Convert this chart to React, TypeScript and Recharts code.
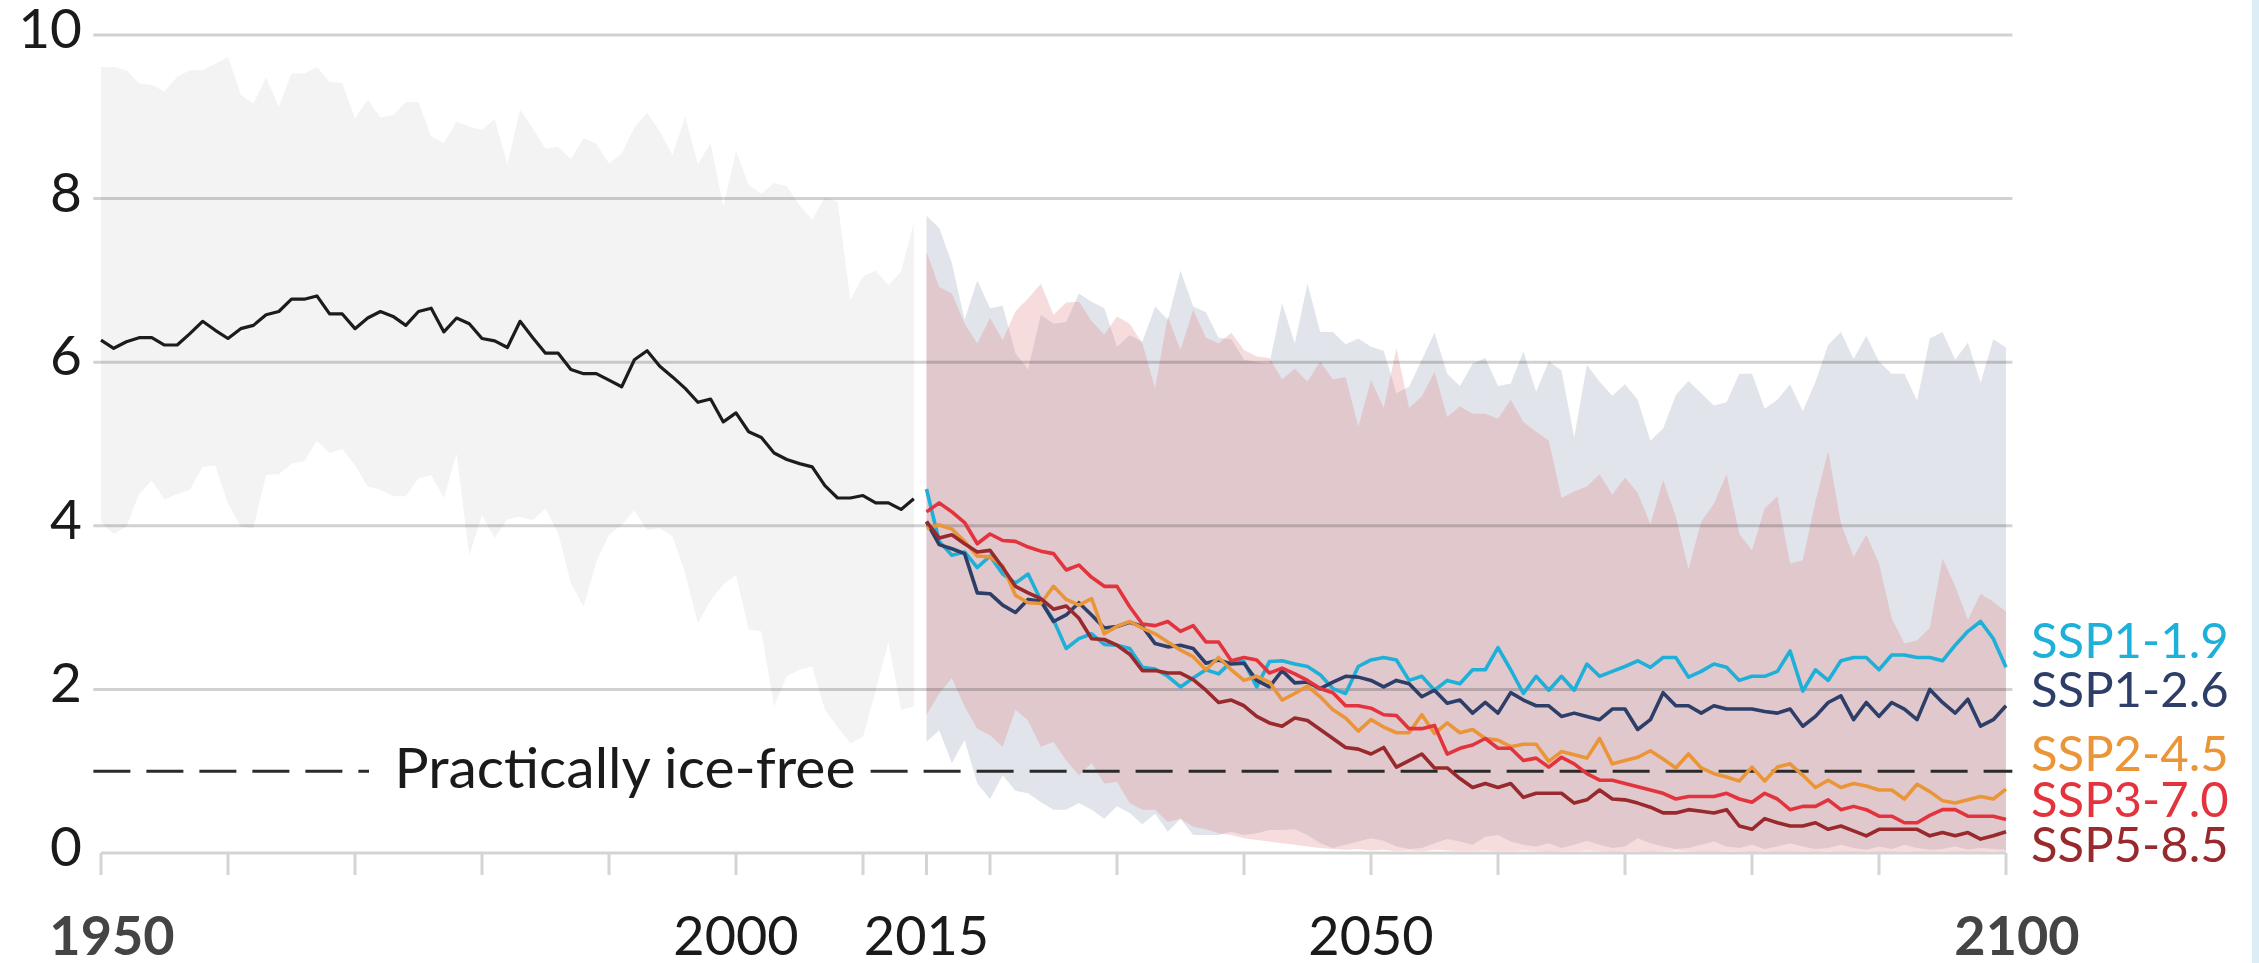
import React from "react";
import { ComposedChart, Area, Line, XAxis, YAxis, ReferenceLine } from "recharts";

// historical, 1950-2014
const HIST_START = 1950;
const histMean = [
  6.27, 6.17, 6.25, 6.3, 6.3, 6.21, 6.21, 6.35, 6.5, 6.39,
  6.29, 6.41, 6.45, 6.58, 6.62, 6.77, 6.77, 6.81, 6.59, 6.59,
  6.41, 6.54, 6.62, 6.56, 6.45, 6.62, 6.66, 6.37, 6.54, 6.47,
  6.29, 6.26, 6.18, 6.5, 6.3, 6.11, 6.11, 5.91, 5.86, 5.86,
  5.78, 5.7, 6.03, 6.14, 5.95, 5.82, 5.68, 5.51, 5.55, 5.27,
  5.38, 5.15, 5.08, 4.89, 4.81, 4.76, 4.72, 4.49, 4.34, 4.34,
  4.37, 4.28, 4.28, 4.2, 4.33,
];
const histHigh = [
  9.61, 9.61, 9.57, 9.41, 9.39, 9.31, 9.49, 9.57, 9.57, 9.65,
  9.73, 9.27, 9.16, 9.48, 9.12, 9.53, 9.53, 9.61, 9.43, 9.41,
  8.98, 9.21, 8.99, 9.02, 9.18, 9.18, 8.76, 8.68, 8.94, 8.88,
  8.84, 8.97, 8.42, 9.09, 8.86, 8.61, 8.63, 8.48, 8.74, 8.67,
  8.43, 8.55, 8.87, 9.05, 8.82, 8.53, 9.0, 8.42, 8.68, 7.9,
  8.58, 8.17, 8.06, 8.19, 8.15, 7.92, 7.74, 8.02, 7.96, 6.76,
  7.05, 7.12, 6.94, 7.11, 7.7,
];
const histLow = [
  4.04, 3.9, 3.99, 4.39, 4.55, 4.32, 4.39, 4.44, 4.72, 4.74,
  4.27, 3.99, 3.97, 4.62, 4.63, 4.76, 4.79, 5.04, 4.89, 4.94,
  4.74, 4.48, 4.44, 4.36, 4.36, 4.58, 4.62, 4.34, 4.88, 3.64,
  4.13, 3.85, 4.08, 4.11, 4.07, 4.21, 3.91, 3.3, 3.01, 3.56,
  3.89, 4.01, 4.19, 3.95, 3.97, 3.87, 3.42, 2.81, 3.09, 3.28,
  3.4, 2.73, 2.71, 1.79, 2.16, 2.24, 2.28, 1.75, 1.54, 1.34,
  1.42, 1.99, 2.58, 1.75, 1.79,
];

// projections, 2015-2100
const SSP_START = 2015;
const ssp119 = [
  4.45, 3.81, 3.64, 3.68, 3.49, 3.63, 3.41, 3.3, 3.41, 3.09,
  2.85, 2.5, 2.62, 2.68, 2.55, 2.54, 2.5, 2.27, 2.25, 2.16,
  2.03, 2.14, 2.24, 2.19, 2.34, 2.34, 2.03, 2.34, 2.35, 2.31,
  2.28, 2.18, 2.01, 1.95, 2.28, 2.36, 2.39, 2.36, 2.11, 2.16,
  1.99, 2.11, 2.07, 2.24, 2.24, 2.51, 2.24, 1.95, 2.16, 1.99,
  2.16, 1.99, 2.31, 2.16, 2.22, 2.28, 2.35, 2.27, 2.39, 2.39,
  2.15, 2.22, 2.31, 2.27, 2.11, 2.16, 2.16, 2.22, 2.47, 1.98,
  2.24, 2.11, 2.35, 2.39, 2.39, 2.24, 2.42, 2.42, 2.39, 2.39,
  2.35, 2.54, 2.71, 2.83, 2.62, 2.27,
];
const ssp126 = [
  4.05, 3.77, 3.72, 3.66, 3.18, 3.17, 3.03, 2.94, 3.1, 3.08,
  2.83, 2.91, 3.06, 2.91, 2.75, 2.77, 2.82, 2.77, 2.56, 2.52,
  2.54, 2.5, 2.32, 2.36, 2.31, 2.32, 2.11, 2.03, 2.23, 2.08,
  2.09, 2.01, 2.09, 2.16, 2.15, 2.11, 2.03, 2.11, 2.07, 1.91,
  1.99, 1.83, 1.87, 1.71, 1.84, 1.71, 1.96, 1.87, 1.8, 1.8,
  1.67, 1.71, 1.67, 1.63, 1.76, 1.76, 1.51, 1.63, 1.96, 1.8,
  1.8, 1.71, 1.8, 1.76, 1.76, 1.76, 1.73, 1.71, 1.76, 1.55,
  1.67, 1.84, 1.92, 1.63, 1.84, 1.67, 1.84, 1.76, 1.63, 2.0,
  1.84, 1.71, 1.88, 1.55, 1.63, 1.8,
];
const ssp245 = [
  3.97, 4.01, 3.96, 3.81, 3.63, 3.62, 3.51, 3.15, 3.06, 3.05,
  3.26, 3.1, 3.03, 3.11, 2.68, 2.77, 2.83, 2.75, 2.68, 2.58,
  2.48, 2.4, 2.24, 2.39, 2.24, 2.11, 2.16, 2.09, 1.87, 1.95,
  2.04, 1.91, 1.75, 1.65, 1.49, 1.63, 1.54, 1.47, 1.47, 1.69,
  1.46, 1.59, 1.47, 1.51, 1.4, 1.38, 1.3, 1.33, 1.33, 1.12,
  1.24, 1.2, 1.16, 1.4, 1.09, 1.13, 1.17, 1.25, 1.15, 1.04,
  1.21, 1.04, 0.97, 0.93, 0.88, 1.05, 0.88, 1.05, 1.09, 0.95,
  0.8, 0.89, 0.8, 0.85, 0.82, 0.77, 0.77, 0.66, 0.84, 0.75,
  0.64, 0.61, 0.65, 0.69, 0.66, 0.78,
];
const ssp370 = [
  4.17, 4.28, 4.17, 4.04, 3.78, 3.9, 3.82, 3.81, 3.74, 3.69,
  3.66, 3.46, 3.52, 3.37, 3.26, 3.26, 3.01, 2.8, 2.78, 2.83,
  2.71, 2.78, 2.58, 2.58, 2.35, 2.39, 2.36, 2.2, 2.26, 2.19,
  2.11, 2.01, 1.96, 1.8, 1.8, 1.77, 1.69, 1.68, 1.52, 1.52,
  1.56, 1.21, 1.28, 1.32, 1.4, 1.28, 1.28, 1.13, 1.16, 1.05,
  1.17, 1.09, 0.97, 0.89, 0.89, 0.85, 0.81, 0.77, 0.73, 0.66,
  0.69, 0.69, 0.69, 0.73, 0.66, 0.62, 0.73, 0.66, 0.53, 0.57,
  0.57, 0.65, 0.53, 0.57, 0.53, 0.45, 0.45, 0.37, 0.37, 0.46,
  0.53, 0.53, 0.45, 0.45, 0.45, 0.41,
];
const ssp585 = [
  4.05, 3.85, 3.89, 3.78, 3.68, 3.7, 3.49, 3.26, 3.18, 3.11,
  2.98, 3.02, 2.87, 2.62, 2.61, 2.54, 2.43, 2.23, 2.23, 2.2,
  2.2, 2.12, 1.99, 1.84, 1.87, 1.8, 1.67, 1.59, 1.55, 1.65,
  1.62, 1.51, 1.4, 1.29, 1.27, 1.21, 1.29, 1.05, 1.13, 1.21,
  1.04, 1.04, 0.91, 0.8, 0.85, 0.8, 0.85, 0.68, 0.73, 0.73,
  0.73, 0.61, 0.65, 0.77, 0.66, 0.65, 0.61, 0.56, 0.49, 0.49,
  0.53, 0.51, 0.49, 0.53, 0.33, 0.29, 0.42, 0.37, 0.33, 0.33,
  0.37, 0.29, 0.33, 0.27, 0.21, 0.29, 0.29, 0.29, 0.29, 0.21,
  0.25, 0.21, 0.25, 0.17, 0.21, 0.26,
];

// likely ranges for SSP1-2.6 and SSP3-7.0
const band126High = [
  7.79, 7.64, 7.21, 6.52, 7.0, 6.66, 6.69, 6.11, 5.91, 6.58,
  6.47, 6.49, 6.84, 6.74, 6.66, 6.19, 6.33, 6.25, 6.68, 6.52,
  7.12, 6.68, 6.61, 6.3, 6.28, 6.03, 6.0, 5.98, 6.72, 6.23,
  6.96, 6.37, 6.37, 6.22, 6.29, 6.19, 6.14, 5.62, 5.7, 6.03,
  6.36, 5.86, 5.71, 5.98, 6.05, 5.71, 5.74, 6.13, 5.64, 6.01,
  5.9, 5.08, 5.97, 5.76, 5.59, 5.73, 5.54, 5.04, 5.19, 5.6,
  5.77, 5.62, 5.47, 5.51, 5.86, 5.86, 5.43, 5.54, 5.73, 5.4,
  5.76, 6.21, 6.37, 6.04, 6.32, 6.01, 5.86, 5.86, 5.53, 6.29,
  6.37, 6.03, 6.24, 5.75, 6.28, 6.18,
];
const band126Low = [
  1.36, 1.5, 1.1, 1.38, 0.85, 0.66, 0.95, 0.76, 0.73, 0.62,
  0.53, 0.53, 0.61, 0.53, 0.42, 0.57, 0.49, 0.35, 0.48, 0.26,
  0.42, 0.22, 0.22, 0.22, 0.26, 0.22, 0.24, 0.28, 0.28, 0.29,
  0.22, 0.12, 0.06, 0.1, 0.14, 0.18, 0.15, 0.08, 0.05, 0.06,
  0.12, 0.17, 0.14, 0.1, 0.2, 0.22, 0.14, 0.1, 0.08, 0.12,
  0.06, 0.1, 0.15, 0.1, 0.06, 0.08, 0.18, 0.12, 0.08, 0.05,
  0.06, 0.1, 0.14, 0.08, 0.06, 0.1, 0.05, 0.08, 0.12, 0.08,
  0.05, 0.06, 0.1, 0.06, 0.04, 0.08, 0.05, 0.1, 0.06, 0.04,
  0.05, 0.08, 0.04, 0.06, 0.05, 0.04,
];
const band370High = [
  7.35, 6.92, 6.84, 6.47, 6.23, 6.54, 6.27, 6.62, 6.78, 6.96,
  6.58, 6.73, 6.74, 6.5, 6.34, 6.56, 6.47, 6.23, 5.68, 6.56,
  6.15, 6.64, 6.3, 6.23, 6.36, 6.15, 6.07, 6.05, 5.79, 5.92,
  5.76, 6.01, 5.79, 5.82, 5.21, 5.78, 5.44, 6.17, 5.44, 5.58,
  5.88, 5.33, 5.46, 5.37, 5.37, 5.31, 5.54, 5.27, 5.15, 5.04,
  4.34, 4.42, 4.48, 4.63, 4.38, 4.59, 4.4, 4.02, 4.56, 4.11,
  3.47, 4.05, 4.27, 4.63, 3.9, 3.7, 4.21, 4.36, 3.54, 3.58,
  4.3, 4.91, 4.03, 3.62, 3.89, 3.54, 2.87, 2.56, 2.6, 2.75,
  3.6, 3.26, 2.85, 3.17, 3.07, 2.95,
];
const band370Low = [
  1.69, 1.95, 2.14, 1.79, 1.52, 1.44, 1.3, 1.75, 1.62, 1.3,
  1.36, 1.13, 0.95, 1.1, 0.85, 0.87, 0.61, 0.53, 0.53, 0.38,
  0.42, 0.32, 0.29, 0.24, 0.22, 0.18, 0.16, 0.14, 0.12, 0.1,
  0.08, 0.06, 0.05, 0.04, 0.05, 0.03, 0.04, 0.02, 0.03, 0.02,
  0.04, 0.03, 0.02, 0.02, 0.03, 0.02, 0.02, 0.03, 0.02, 0.01,
  0.02, 0.02, 0.03, 0.02, 0.01, 0.02, 0.02, 0.01, 0.02, 0.03,
  0.02, 0.01, 0.01, 0.02, 0.02, 0.01, 0.02, 0.01, 0.01, 0.02,
  0.01, 0.02, 0.01, 0.01, 0.02, 0.01, 0.01, 0.02, 0.01, 0.01,
  0.02, 0.01, 0.01, 0.01, 0.02, 0.01,
];

const xTicks = [1950, 1960, 1970, 1980, 1990, 2000, 2010, 2015, 2020, 2030, 2040, 2050, 2060, 2070, 2080, 2090, 2100];
const xLabels = [1950, 2000, 2015, 2050, 2100];
const yTicks = [0, 2, 4, 6, 8, 10];
const gridValues = [2, 4, 6, 8, 10];
const ICE_FREE = 1;

const series = [
  { key: "ssp119", name: "SSP1-1.9", color: "#1eb0d8", values: ssp119 },
  { key: "ssp126", name: "SSP1-2.6", color: "#2d3e69", values: ssp126 },
  { key: "ssp245", name: "SSP2-4.5", color: "#ea9638", values: ssp245 },
  { key: "ssp370", name: "SSP3-7.0", color: "#e3343e", values: ssp370 },
  { key: "ssp585", name: "SSP5-8.5", color: "#982a2d", values: ssp585 },
];
// label baselines on the right, in px
const labelBaselines = [658, 707, 771, 817, 862];

const rows: any[] = [];
for (let year = 1950; year <= 2100; year++) {
  const row: any = { year };
  const h = year - HIST_START;
  if (h >= 0 && h < histMean.length) {
    row.hist = histMean[h];
    row.histBand = [histLow[h], histHigh[h]];
  }
  const p = year - SSP_START;
  if (p >= 0 && p < ssp119.length) {
    series.forEach((s) => (row[s.key] = s.values[p]));
    row.band126 = [band126Low[p], band126High[p]];
    row.band370 = [band370Low[p], band370High[p]];
  }
  rows.push(row);
}

const FONT = "Lato, 'Noto Sans', sans-serif";

const XTick = (props: any) => {
  const { x, y, payload } = props;
  const v = payload.value;
  if (!xLabels.includes(v)) return <g />;
  const edge = v === 1950 || v === 2100;
  return (
    <text
      x={x + (edge ? 11 : 0)}
      y={y + 80}
      textAnchor="middle"
      fontFamily={FONT}
      fontSize={54}
      fontWeight={edge ? 700 : 400}
      fill={edge ? "#444" : "#1a1a1a"}
    >
      {v}
    </text>
  );
};

const YTick = (props: any) => {
  const { x, y, payload } = props;
  return (
    <text x={x} y={y + 13} textAnchor="end" fontFamily={FONT} fontSize={55} fill="#1a1a1a">
      {payload.value}
    </text>
  );
};

export default function App() {
  return (
    <div style={{ position: "absolute", left: 0, top: 0, width: 2259, height: 963, background: "#fff" }}>
      <ComposedChart
        width={2259}
        height={963}
        data={rows}
        margin={{ top: 35, right: 253, left: 20, bottom: 10 }}
      >
        <XAxis
          dataKey="year"
          type="number"
          domain={[1950, 2100]}
          ticks={xTicks}
          interval={0}
          height={100}
          tickSize={22}
          tickMargin={0}
          axisLine={{ stroke: "#d4d4d4", strokeWidth: 3 }}
          tickLine={{ stroke: "#d4d4d4", strokeWidth: 3 }}
          tick={XTick}
        />
        <YAxis
          type="number"
          domain={[0, 10]}
          ticks={yTicks}
          interval={0}
          width={81}
          axisLine={false}
          tickLine={false}
          tickSize={0}
          tickMargin={19}
          tick={YTick}
        />
        <Area
          dataKey="histBand"
          type="linear"
          stroke="none"
          fill="#f3f3f3"
          fillOpacity={1}
          dot={false}
          activeDot={false}
          isAnimationActive={false}
        />
        <Area
          dataKey="band126"
          type="linear"
          stroke="none"
          fill="#2c3e6b"
          fillOpacity={0.14}
          dot={false}
          activeDot={false}
          isAnimationActive={false}
        />
        <Area
          dataKey="band370"
          type="linear"
          stroke="none"
          fill="#de7e82"
          fillOpacity={0.27}
          dot={false}
          activeDot={false}
          isAnimationActive={false}
        />
        {gridValues.map((g) => (
          <ReferenceLine
            key={g}
            segment={[{ x: 1949.4, y: g }, { x: 2100.5, y: g }]}
            ifOverflow="visible"
            stroke="#000"
            strokeOpacity={0.18}
            strokeWidth={3}
          />
        ))}
        <ReferenceLine
          segment={[{ x: 1949.4, y: ICE_FREE }, { x: 1971.1, y: ICE_FREE }]}
          ifOverflow="visible"
          stroke="#2a2a2a"
          strokeWidth={3}
          strokeDasharray="37 16"
        />
        <ReferenceLine
          segment={[{ x: 2010.6, y: ICE_FREE }, { x: 2100.5, y: ICE_FREE }]}
          ifOverflow="visible"
          stroke="#2a2a2a"
          strokeWidth={3}
          strokeDasharray="37 16"
        />
        <Line
          dataKey="hist"
          type="linear"
          stroke="#1c1c1c"
          strokeWidth={3.2}
          strokeLinejoin="round"
          dot={false}
          activeDot={false}
          isAnimationActive={false}
        />
        {series.map((s) => (
          <Line
            key={s.key}
            dataKey={s.key}
            type="linear"
            stroke={s.color}
            strokeWidth={3.6}
            strokeLinejoin="round"
            dot={false}
            activeDot={false}
            isAnimationActive={false}
          />
        ))}
      </ComposedChart>
      <svg
        width={2259}
        height={963}
        style={{ position: "absolute", left: 0, top: 0, pointerEvents: "none" }}
      >
        <text x={625} y={788} textAnchor="middle" fontFamily={FONT} fontSize={57} fill="#1a1a1a">
          Practically ice-free
        </text>
        {series.map((s, i) => (
          <text key={s.key} x={2031} y={labelBaselines[i]} fontFamily={FONT} fontSize={49} fill={s.color}>
            {s.name}
          </text>
        ))}
      </svg>
      <div style={{ position: "absolute", left: 2252, top: 0, width: 7, height: 963, background: "#dcedf8" }} />
    </div>
  );
}
